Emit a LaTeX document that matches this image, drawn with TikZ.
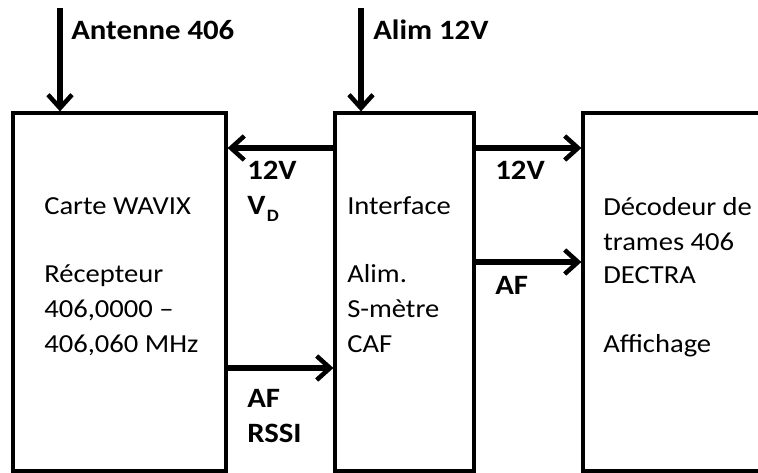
\documentclass[tikz,border=0pt]{standalone}
\usepackage{fontspec}
\setmainfont{Carlito}[FakeStretch=1.1]
\usetikzlibrary{arrows.meta,fit}
\tikzset{
  box/.style={draw=black, line width=2.4pt, inner sep=0pt},
  arr/.style={line width=3.8pt, -{Straight Barb[length=10pt,width=18pt,line width=3.4pt]}},
  txt/.style={anchor=base west, inner sep=0pt, font=\fontsize{19.5}{22}\selectfont},
  lbl/.style={anchor=base west, inner sep=0pt, font=\bfseries\fontsize{21}{24}\selectfont},
}
\begin{document}
\begin{tikzpicture}[x=0.75pt,y=-0.75pt]
\useasboundingbox (0,0) rectangle (758,473);
\clip (0,0) rectangle (758,473);
% boxes
\node[box, fit={(13,113) (226,471)}] (left) {};
\node[box, fit={(335,113) (474,471)}] (mid) {};
\node[box, fit={(583,113) (800,471)}] (right) {};
% input coordinates
\coordinate (antsrc) at (60,8);
\coordinate (alimsrc) at (361,8);
% arrows
\draw[arr] (antsrc) -- (left.north -| antsrc);
\draw[arr] (alimsrc) -- (mid.north -| alimsrc);
\draw[arr] (mid.west |- 0,148) -- (left.east |- 0,148);
\draw[arr] (mid.east |- 0,148) -- (right.west |- 0,148);
\draw[arr] (mid.east |- 0,262) -- (right.west |- 0,262);
\draw[arr] (left.east |- 0,368) -- (mid.west |- 0,368);
% arrow labels
\node[lbl] (lant) at (71,40) {Antenne 406};
\node[lbl] (lalim) at (373,40) {Alim 12V};
\node[lbl] (l12a) at (247,180) {12V};
\node[lbl] (lvd) at (247,215) {V\hspace{1pt}\raisebox{-5pt}{\fontsize{13}{14}\selectfont D}};
\node[lbl] (l12b) at (495,180) {12V};
\node[lbl] (lafb) at (495,295) {AF};
\node[lbl] (lafa) at (247,408) {AF};
\node[lbl] (lrssi) at (247,443) {RSSI};
% box texts
\node[txt] (t1) at (44,215) {Carte WAVIX};
\node[txt] (t2) at (44,283) {Récepteur};
\node[txt] (t3) at (44,318) {406,0000 –};
\node[txt] (t4) at (44,353) {406,060 MHz};
\node[txt] (m1) at (347,215) {Interface};
\node[txt] (m2) at (347,283) {Alim.};
\node[txt] (m3) at (347,318) {S-mètre};
\node[txt] (m4) at (347,353) {CAF};
\node[txt] (r1) at (603,216) {Décodeur de};
\node[txt] (r2) at (603,251) {trames 406};
\node[txt] (r3) at (603,284) {DECTRA};
\node[txt] (r4) at (603,353) {Affichage};
\end{tikzpicture}
\end{document}
